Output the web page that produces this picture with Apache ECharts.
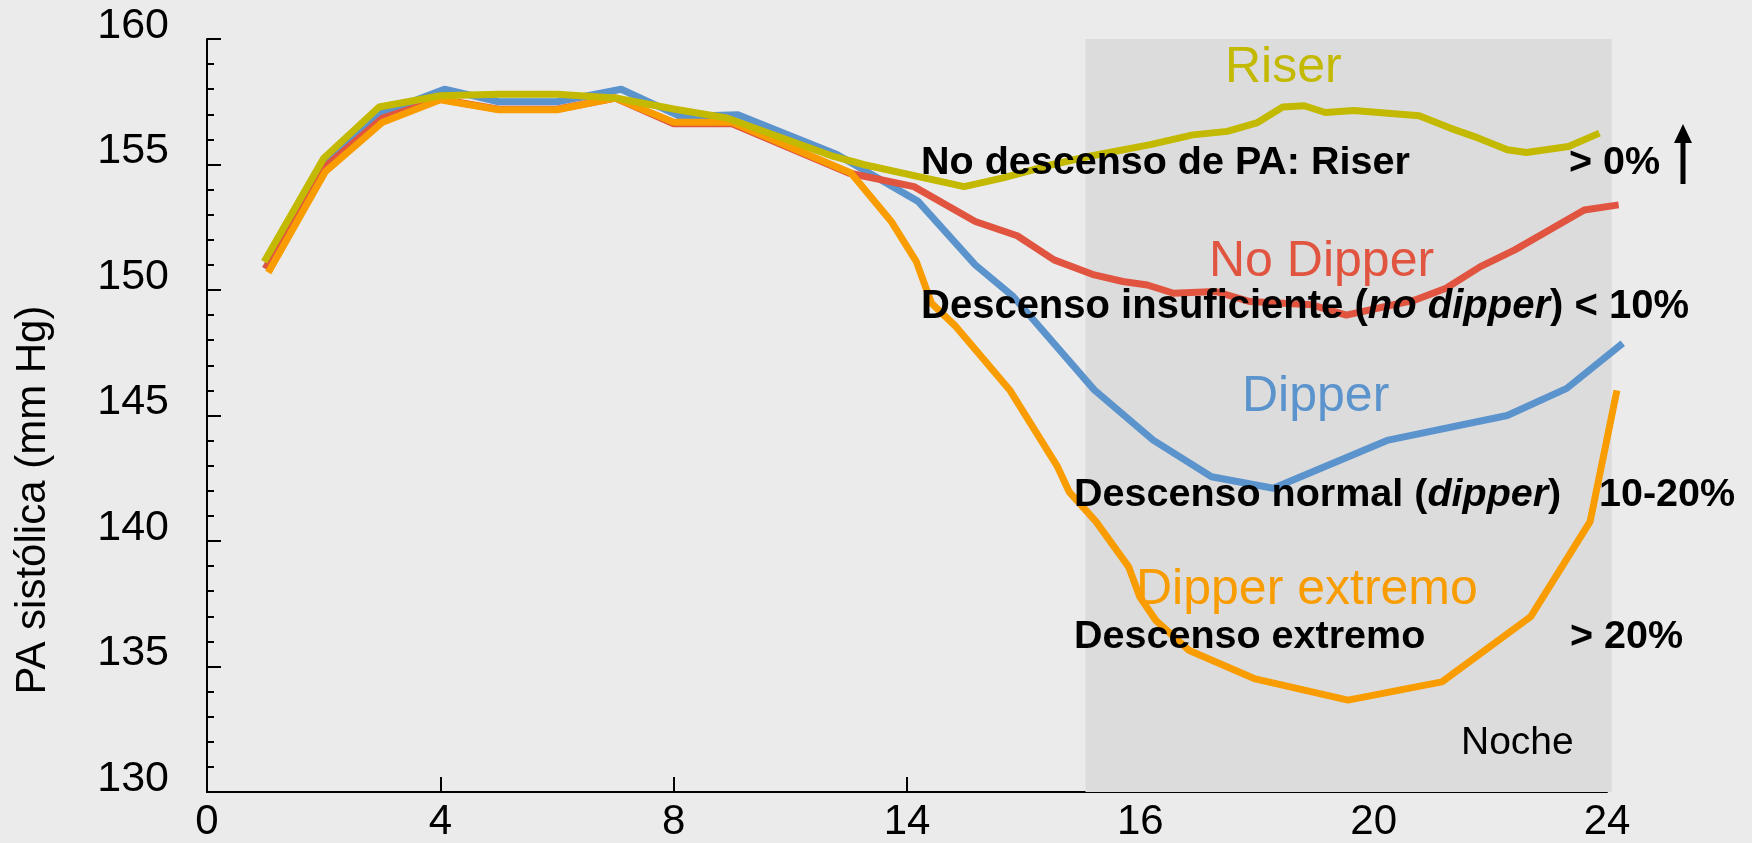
<!DOCTYPE html>
<html>
<head>
<meta charset="utf-8">
<script src="https://cdn.jsdelivr.net/npm/echarts@6/dist/echarts.min.js"></script>
<style>
html,body{margin:0;padding:0;background:#ebebeb;}
#c{width:1752px;height:843px;}
</style>
</head>
<body>
<div id="c"></div>
<script>
// x positions are in axis units (6 equal intervals of 4 units, labelled below)
const xTickValues = [0, 4, 8, 12, 16, 20, 24];
const xTickLabels = ['0', '4', '8', '14', '16', '20', '24'];
const yTicks = [130, 135, 140, 145, 150, 155, 160];
const nightRange = [15.06, 24.08];

const dipper = [[1.0,150.85],[2.0,155.0],[3.0,157.05],[4.07,158.0],[5.0,157.5],[6.0,157.5],[7.1,158.0],[8.12,156.91],[9.1,156.98],[10.8,155.4],[12.19,153.53],[13.17,151.0],[13.82,149.74],[15.21,146.02],[16.22,144.02],[17.22,142.56],[18.28,142.1],[20.25,144.02],[22.29,145.0],[23.31,146.08],[24.27,147.88]];
const noDipper = [[1.0,150.85],[2.0,154.85],[3.0,156.84],[4.0,157.6],[5.0,157.2],[6.0,157.2],[7.0,157.65],[8.0,156.62],[9.0,156.62],[11.0,154.66],[12.12,154.12],[13.17,152.73],[13.89,152.16],[14.52,151.2],[15.21,150.6],[15.7,150.34],[16.12,150.2],[16.57,149.87],[17.29,149.94],[17.88,149.54],[18.94,149.41],[19.53,149.0],[20.71,149.6],[21.24,150.07],[21.83,150.93],[22.42,151.6],[23.02,152.4],[23.61,153.19],[24.2,153.39]];
const dipperExtremo = [[1.05,150.7],[2.03,154.72],[3.0,156.67],[4.0,157.58],[5.0,157.18],[6.0,157.18],[7.0,157.65],[8.0,156.68],[9.0,156.68],[11.04,154.66],[11.73,152.73],[12.16,151.13],[12.42,149.47],[12.84,148.54],[13.76,146.02],[14.58,142.96],[14.78,141.96],[15.24,140.77],[15.8,138.97],[15.99,137.78],[16.26,136.85],[16.83,135.65],[17.95,134.52],[19.56,133.66],[21.17,134.39],[22.69,136.98],[23.71,140.77],[24.17,146.0]];
const riser = [[0.98,151.13],[2.0,155.25],[2.95,157.29],[4.0,157.74],[5.0,157.8],[6.0,157.8],[7.0,157.65],[8.0,157.21],[8.91,156.85],[10.74,155.32],[11.27,154.99],[12.98,154.12],[13.63,154.46],[14.5,155.0],[15.13,155.33],[16.17,155.79],[16.9,156.18],[17.49,156.32],[18.01,156.67],[18.44,157.29],[18.81,157.34],[19.17,157.07],[19.66,157.15],[20.78,156.94],[21.31,156.45],[21.8,156.05],[22.29,155.59],[22.62,155.48],[23.34,155.72],[23.87,156.25]];

const FONT = "'Liberation Sans', Arial, Helvetica, sans-serif";
const C_RISER = '#c2b900', C_RED = '#e05440', C_BLUE = '#5b93cd', C_ORANGE = '#f89c00';

// plotting grid is widened on the right so lines that run slightly past 24 are not cut
const GRID_LEFT = 207, GRID_RIGHT = 145, GRID_TOP = 39, GRID_BOTTOM = 51, EXTRA_RIGHT = 30;
const plotW = 1752 - GRID_LEFT - GRID_RIGHT;
const xMaxWide = 24 * (plotW + EXTRA_RIGHT) / plotW;

const chart = echarts.init(document.getElementById('c'), null, {renderer: 'canvas'});

function line(name, data, color) {
  return {
    name: name, type: 'line', data: data, symbol: 'none', clip: false, z: 3,
    xAxisIndex: 1, yAxisIndex: 1,
    lineStyle: {color: color, width: 7}, silent: true, animation: false
  };
}

function txt(text, x, y, size, color, weight) {
  return {
    type: 'text', silent: true, z: 100,
    style: {text: text, x: x, y: y + 4, fill: color, align: 'left', verticalAlign: 'middle',
      font: (weight || 'normal') + ' ' + size + 'px ' + FONT}
  };
}

function richTxt(text, x, y, size) {
  return {
    type: 'text', silent: true, z: 100,
    style: {
      x: x, y: y + 4, align: 'left', verticalAlign: 'middle', text: text,
      rich: {
        b: {font: 'bold ' + size + 'px ' + FONT, fill: '#000'},
        i: {font: 'italic bold ' + size + 'px ' + FONT, fill: '#000'}
      }
    }
  };
}

const option = {
  backgroundColor: '#ebebeb',
  animation: false,
  grid: [
    {left: GRID_LEFT, right: GRID_RIGHT, top: GRID_TOP, bottom: GRID_BOTTOM},
    {left: GRID_LEFT, right: GRID_RIGHT - EXTRA_RIGHT, top: GRID_TOP, bottom: GRID_BOTTOM}
  ],
  xAxis: [{
    type: 'value', min: 0, max: 24, interval: 4, gridIndex: 0,
    axisLine: {lineStyle: {color: '#000', width: 2}},
    axisTick: {inside: true, length: 15, lineStyle: {color: '#000', width: 2}},
    splitLine: {show: false},
    axisLabel: {
      fontSize: 42, fontFamily: FONT, color: '#000', margin: 9,
      formatter: v => { const i = xTickValues.indexOf(v); return i >= 0 ? xTickLabels[i] : ''; }
    }
  }, {
    type: 'value', min: 0, max: xMaxWide, gridIndex: 1, show: false
  }],
  yAxis: [{
    type: 'value', min: yTicks[0], max: yTicks[yTicks.length - 1], interval: 5, gridIndex: 0,
    axisLine: {show: true, lineStyle: {color: '#000', width: 2}},
    axisTick: {show: true, inside: true, length: 14, lineStyle: {color: '#000', width: 2}},
    minorTick: {show: true, splitNumber: 5, length: 7, lineStyle: {color: '#000', width: 2}},
    splitLine: {show: false},
    axisLabel: {fontSize: 43, fontFamily: FONT, color: '#000', margin: 38,
      verticalAlign: 'bottom', lineHeight: 26}
  }, {
    type: 'value', min: yTicks[0], max: yTicks[yTicks.length - 1], gridIndex: 1, show: false
  }],
  series: [
    {
      name: 'Noche', type: 'custom', z: 1, clip: false, silent: true,
      xAxisIndex: 0, yAxisIndex: 0,
      data: [[nightRange[0], nightRange[1]]],
      renderItem: function (params, api) {
        const p1 = api.coord([api.value(0), yTicks[yTicks.length - 1]]);
        const p2 = api.coord([api.value(1), yTicks[0]]);
        return {type: 'rect', shape: {x: p1[0], y: p1[1], width: p2[0] - p1[0], height: p2[1] - p1[1]},
          style: {fill: '#dcdcdc'}};
      }
    },
    line('Dipper', dipper, C_BLUE),
    line('No Dipper', noDipper, C_RED),
    line('Dipper extremo', dipperExtremo, C_ORANGE),
    line('Riser', riser, C_RISER)
  ],
  graphic: [
    {type: 'text', silent: true, z: 100, x: 33, y: 500, rotation: Math.PI / 2,
      style: {text: 'PA sistólica (mm Hg)', x: 0, y: 0, fill: '#000', align: 'center', verticalAlign: 'middle', font: 'normal 42px ' + FONT}},
    txt('Riser', 1225, 64, 50, C_RISER),
    txt('No descenso de PA: Riser', 921, 159, 39.5, '#000', 'bold'),
    txt('> 0%', 1569, 159, 39.5, '#000', 'bold'),
    txt('No Dipper', 1209, 258, 50, C_RED),
    richTxt('{b|Descenso insuficiente (}{i|no dipper}{b|) < 10%}', 921, 303, 40),
    txt('Dipper', 1242, 393, 50, C_BLUE),
    richTxt('{b|Descenso normal (}{i|dipper}{b|)}', 1074, 491, 39.5),
    txt('10-20%', 1599, 491, 39.5, '#000', 'bold'),
    txt('Dipper extremo', 1136, 586, 50, C_ORANGE),
    txt('Descenso extremo', 1074, 633, 39.5, '#000', 'bold'),
    txt('> 20%', 1570, 633, 39.5, '#000', 'bold'),
    txt('Noche', 1461, 739, 39, '#000'),
    {type: 'line', silent: true, z: 100, shape: {x1: 1683, y1: 184, x2: 1683, y2: 140}, style: {stroke: '#000', lineWidth: 5}},
    {type: 'polygon', silent: true, z: 100, shape: {points: [[1674, 143], [1692, 143], [1683, 124]]}, style: {fill: '#000'}}
  ]
};
chart.setOption(option);
</script>
</body>
</html>
